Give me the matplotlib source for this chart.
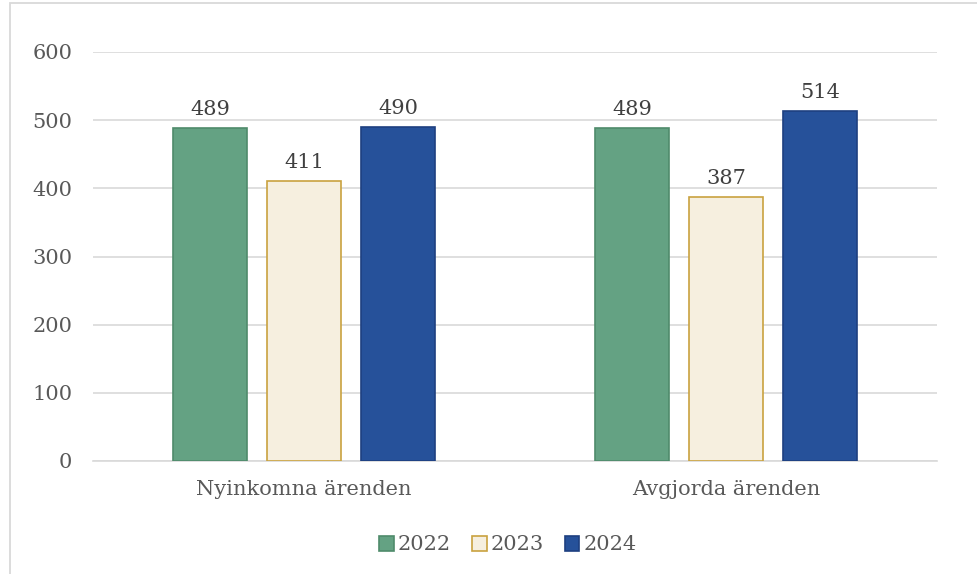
import matplotlib
matplotlib.use("Agg")
import matplotlib.pyplot as plt
from matplotlib.patches import Rectangle
import numpy as np

categories = ["Nyinkomna ärenden", "Avgjorda ärenden"]
years = ["2022", "2023", "2024"]
values_2022 = [489, 489]
values_2023 = [411, 387]
values_2024 = [490, 514]
yticks = [0, 100, 200, 300, 400, 500, 600]

series = [values_2022, values_2023, values_2024]
faces = ["#64A283", "#F6EFDF", "#26519A"]
edges = ["#4F8B6B", "#C9A23F", "#1E4080"]

plt.rcParams['font.family'] = ['DejaVu Serif']

W, H = 978, 574
fig = plt.figure(figsize=(W / 100, H / 100), dpi=100)
# outer chart frame
fig.patches.append(Rectangle((10 / W, -0.5), 2, 1 - 3 / H + 0.5, transform=fig.transFigure,
                             fill=False, edgecolor="#D9D9D9", linewidth=1.3))

ax = fig.add_axes([93 / W, 1 - 461 / H, (937 - 93) / W, (461 - 52) / H])
x = np.arange(len(categories))
bw = 74 / 422
step = 94 / 422
for i, (vals, fc, ec, yr) in enumerate(zip(series, faces, edges, years)):
    bars = ax.bar(x + (i - 1) * step, vals, width=bw, color=fc, edgecolor=ec,
                  linewidth=1.2, label=yr, zorder=3)
    for b, v in zip(bars, vals):
        ax.text(b.get_x() + b.get_width() / 2, v + 13, str(v), ha="center", va="bottom",
                fontsize=15, color="#404040")

ax.set_xlim(-0.5, 1.5)
ax.set_ylim(0, 600)
ax.set_yticks(yticks)
ax.set_yticklabels([str(t) for t in yticks], fontsize=15, color="#595959")
ax.set_xticks(x)
ax.set_xticklabels(categories, fontsize=15, color="#595959")
ax.tick_params(axis="both", length=0)
ax.tick_params(axis="y", pad=15)
ax.tick_params(axis="x", pad=14)
ax.grid(axis="y", color="#D9D9D9", linewidth=1.2, zorder=0)
for s in ["top", "right", "left"]:
    ax.spines[s].set_visible(False)
ax.spines["bottom"].set_color("#D9D9D9")
ax.spines["bottom"].set_linewidth(1.2)

leg = fig.legend(loc="center", bbox_to_anchor=(508 / W, 1 - 545 / H), ncol=3, frameon=False,
                 fontsize=15, handlelength=0.7, handleheight=0.7, handletextpad=0.2,
                 columnspacing=1.0, labelcolor="#595959")

fig.savefig("out.png", dpi=100)
